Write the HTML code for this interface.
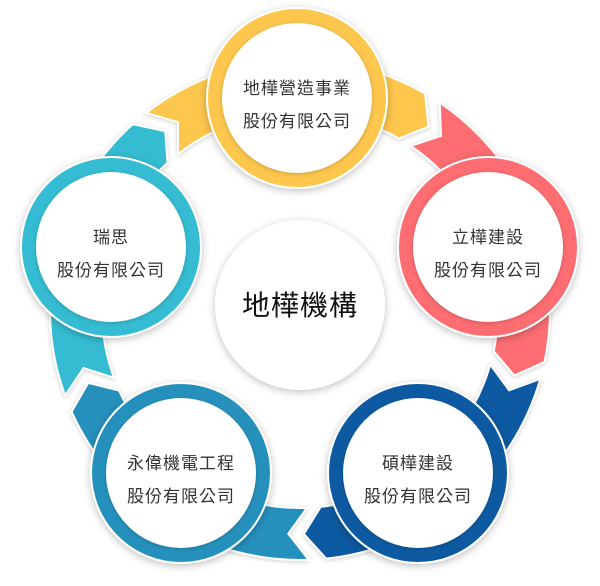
<!DOCTYPE html>
<html><head><meta charset="utf-8"><style>
html,body{margin:0;padding:0;background:#fff;}
body{width:600px;height:581px;overflow:hidden;}
text{font-family:"Liberation Sans","Noto Sans CJK TC",sans-serif;fill:#333;}
</style></head><body>
<svg id="s" width="600" height="581" viewBox="0 0 600 581" xmlns="http://www.w3.org/2000/svg">
<defs>
<filter id="sh" x="-30%" y="-30%" width="160%" height="160%"><feDropShadow dx="0" dy="2" stdDeviation="4" flood-color="#000" flood-opacity="0.25"/></filter>
<filter id="sh2" x="-30%" y="-30%" width="160%" height="160%"><feDropShadow dx="0" dy="1" stdDeviation="2" flood-color="#000" flood-opacity="0.2"/></filter>
</defs>
<g id="bands"></g>
<g id="circles"></g>
</svg>
<script>
var cx=300,cy=310,ri=198,ro=250,rm=224;
var cols=["#fdc64e","#fd6d71","#0a5aa2","#2690bd","#36bcd2"];
var angs=[-90,-18,54,126,198];
function P(r,a){a=a*Math.PI/180;return (cx+r*Math.cos(a)).toFixed(1)+","+(cy+r*Math.sin(a)).toFixed(1);}
var ns="http://www.w3.org/2000/svg",bg=document.getElementById("bands");
for(var i=0;i<5;i++){
 var c=angs[i],s=c-36,e=c+36;
 var d="M"+P(ro,s-2)+" A"+ro+","+ro+" 0 0 1 "+P(ro,e-6)+" L"+P(rm,e-1)+" L"+P(ri,e-6)+" A"+ri+","+ri+" 0 0 0 "+P(ri,s-2)+" L"+P(rm,s+3)+" Z";
 var p=document.createElementNS(ns,"path");p.setAttribute("d",d);p.setAttribute("fill",cols[i]);
 p.setAttribute("stroke","#fff");p.setAttribute("stroke-width","2");p.setAttribute("filter","url(#sh2)");bg.appendChild(p);
}
var cg=document.getElementById("circles");
var centers=[[297,98],[488,247],[418,473],[181,473],[111,247]];
var labels=[["地樺營造事業","股份有限公司"],["立樺建設","股份有限公司"],["碩樺建設","股份有限公司"],["永偉機電工程","股份有限公司"],["瑞思","股份有限公司"]];
var h="";
h+='<circle cx="300" cy="305" r="85" fill="#fff" filter="url(#sh)"/>';
h+='<text x="300" y="315" text-anchor="middle" font-size="28" style="fill:#111;letter-spacing:1px">地樺機構</text>';
for(var i=0;i<5;i++){
 var x=centers[i][0],y=centers[i][1];
 h+='<circle cx="'+x+'" cy="'+y+'" r="90" fill="'+cols[i]+'" stroke="#fff" stroke-width="2" filter="url(#sh)"/>';
 h+='<circle cx="'+x+'" cy="'+y+'" r="75" fill="#fff" filter="url(#sh2)"/>';
 h+='<text x="'+x+'" y="'+(y-4)+'" text-anchor="middle" font-size="17" style="letter-spacing:1px">'+labels[i][0]+'</text>';
 h+='<text x="'+x+'" y="'+(y+29)+'" text-anchor="middle" font-size="17" style="letter-spacing:1px">'+labels[i][1]+'</text>';
}
cg.innerHTML=h;
</script>
</body></html>
